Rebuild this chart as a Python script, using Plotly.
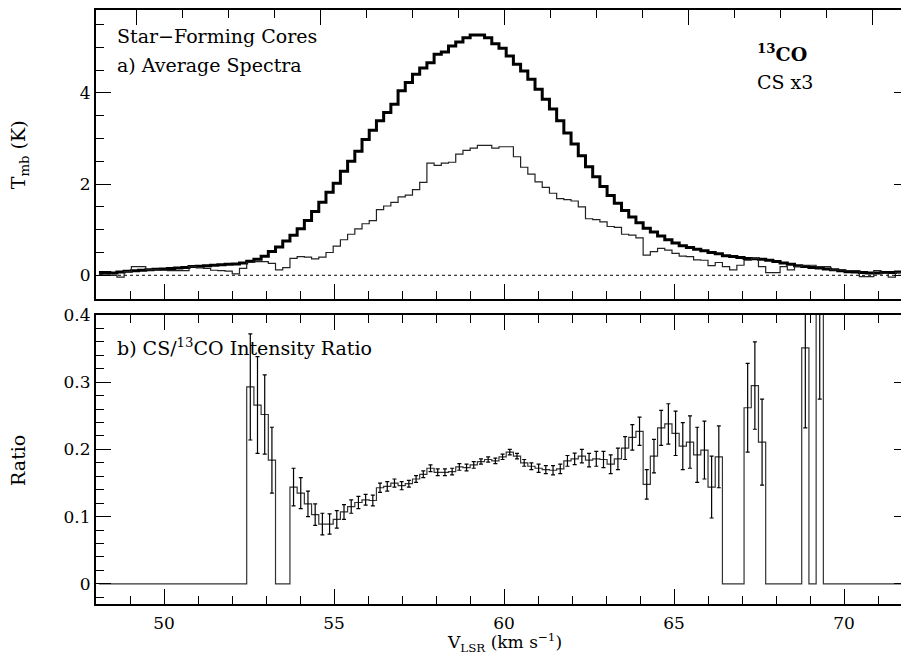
import plotly.graph_objects as go

# ---- channel grid (km/s) ----
V_FIRST = 48.086      # centre of first channel
CHAN_WIDTH = 0.212    # channel width

# ---- a) average spectra (K) ----
t13co = [0.06, 0.06, 0.05, 0.07, 0.09, 0.10, 0.11, 0.12, 0.13, 0.14, 0.15, 0.16, 0.17, 0.19, 0.20, 0.21, 0.22, 0.23, 0.24, 0.25, 0.27,
         0.31, 0.35, 0.42, 0.52, 0.62, 0.75, 0.88, 1.02, 1.20, 1.40, 1.60, 1.82, 2.02, 2.28, 2.50, 2.72, 2.98, 3.18,
         3.39, 3.57, 3.75, 4.05, 4.23, 4.41, 4.55, 4.66, 4.85, 4.90, 5.03, 5.12, 5.21, 5.27, 5.27, 5.21, 5.08, 4.98,
         4.81, 4.63, 4.48, 4.30, 4.08, 3.86, 3.65, 3.39,
         3.12, 2.88, 2.62, 2.38, 2.16, 1.95, 1.75, 1.58, 1.42, 1.28, 1.15, 1.03, 0.95, 0.86, 0.78, 0.71, 0.65, 0.61,
         0.57, 0.54, 0.50, 0.47, 0.43, 0.41, 0.39, 0.37, 0.36, 0.35, 0.33, 0.30, 0.27, 0.24, 0.21, 0.19, 0.17, 0.16,
         0.14, 0.12, 0.10, 0.08, 0.07, 0.06, 0.05, 0.05, 0.06, 0.06, 0.07, 0.07, 0.06]

cs_x3 = [0.02, 0.01, 0.00, -0.04, 0.08, 0.19, 0.19, 0.12, 0.12, 0.11, 0.10, 0.10, 0.10, 0.19, 0.16, 0.15, 0.11, 0.10, 0.09, 0.03, 0.15,
         0.28, 0.30, 0.30, 0.26, 0.12, 0.17, 0.37, 0.41, 0.40, 0.36, 0.40, 0.50, 0.64, 0.78, 0.90, 1.02, 1.13, 1.20,
         1.44, 1.52, 1.60, 1.72, 1.76, 1.88, 2.04,
         2.46, 2.41, 2.46, 2.48, 2.66, 2.74, 2.79, 2.85, 2.85, 2.79, 2.82, 2.82, 2.60, 2.37, 2.22, 2.05, 1.93, 1.80,
         1.68, 1.66, 1.63,
         1.50, 1.24, 1.22, 1.17, 1.07, 1.05, 0.90, 0.88, 0.82, 0.44, 0.52, 0.59, 0.55, 0.48, 0.42, 0.41, 0.34, 0.33,
         0.21, 0.28, 0.19, 0.12, 0.22, 0.33, 0.37, 0.19, 0.06, 0.06, 0.19, 0.12, 0.19, 0.22, 0.22, 0.19, 0.19, 0.12,
         0.12, 0.10, 0.10, -0.03, -0.03, 0.10, 0.04, -0.04, 0.06, 0.03, 0.02]

# ---- b) CS/13CO intensity ratio ----
ratio = [0, 0, 0, 0, 0, 0, 0, 0, 0, 0, 0, 0, 0, 0, 0, 0, 0, 0, 0, 0, 0,
         0.293, 0.266, 0.252, 0.184, 0, 0, 0.144, 0.135, 0.119, 0.103, 0.089, 0.089, 0.096, 0.107, 0.115, 0.121,
         0.125, 0.124, 0.143, 0.145, 0.150, 0.146, 0.149, 0.156, 0.163, 0.172, 0.166, 0.166, 0.167, 0.174, 0.173,
         0.177, 0.182, 0.185, 0.183, 0.189, 0.196, 0.190, 0.180, 0.175, 0.172, 0.170, 0.169, 0.171, 0.183, 0.186,
         0.190, 0.184, 0.186, 0.185, 0.178, 0.186, 0.202, 0.218, 0.227, 0.148, 0.190, 0.232, 0.238, 0.224, 0.205,
         0.211, 0.192, 0.199, 0.144, 0.189,
         0, 0, 0, 0.262, 0.295, 0.211, 0, 0, 0, 0, 0, 0.351, 0, 0.50,
         0, 0, 0, 0, 0, 0, 0, 0, 0, 0, 0, 0, 0]

ratio_err = [0, 0, 0, 0, 0, 0, 0, 0, 0, 0, 0, 0, 0, 0, 0, 0, 0, 0, 0, 0, 0,
             0.079, 0.072, 0.059, 0.049, 0, 0, 0.028, 0.023, 0.019, 0.016, 0.016, 0.015, 0.013, 0.011, 0.010, 0.009,
             0.008, 0.008, 0.007, 0.007, 0.006, 0.006, 0.005, 0.005, 0.005, 0.005, 0.005, 0.005, 0.005, 0.005, 0.005,
             0.005, 0.004, 0.004, 0.004, 0.004, 0.004, 0.004, 0.005, 0.005, 0.006, 0.006, 0.007, 0.007, 0.008, 0.0085,
             0.010, 0.010, 0.011, 0.012, 0.014, 0.016, 0.017, 0.019, 0.021, 0.022, 0.025, 0.026, 0.030, 0.033, 0.035,
             0.039, 0.041, 0.043, 0.046, 0.046,
             0, 0, 0, 0.066, 0.065, 0.064, 0, 0, 0, 0, 0, 0.119, 0, 0.225,
             0, 0, 0, 0, 0, 0, 0, 0, 0, 0, 0, 0, 0]

vel = [round(V_FIRST + CHAN_WIDTH * i, 4) for i in range(len(t13co))]
ratio_pts = [r if e > 0 else None for r, e in zip(ratio, ratio_err)]

FONT = "DejaVu Serif"
TF = dict(family=FONT, size=17, color="black")     # tick labels
LF = dict(family=FONT, size=19, color="black")     # panel texts and axis titles
TICKC = "black"

fig = go.Figure()
fig.add_trace(go.Scatter(x=vel, y=t13co, xaxis="x2", yaxis="y2", mode="lines",
                         line=dict(shape="hvh", width=3, color="black")))
fig.add_trace(go.Scatter(x=vel, y=cs_x3, xaxis="x2", yaxis="y2", mode="lines",
                         line=dict(shape="hvh", width=1.2, color="#222222")))
fig.add_trace(go.Scatter(x=vel, y=ratio, xaxis="x", yaxis="y", mode="lines",
                         line=dict(shape="hvh", width=1.2, color="#333333")))
fig.add_trace(go.Scatter(x=vel, y=ratio_pts, xaxis="x", yaxis="y", mode="markers",
                         marker=dict(size=1, color="rgba(0,0,0,0)"),
                         error_y=dict(type="data", array=ratio_err, color="black",
                                      thickness=1.2, width=2)))
# carriers for the extra tick-only axes
fig.add_trace(go.Scatter(x=[], y=[], xaxis="x3", yaxis="y2"))
fig.add_trace(go.Scatter(x=[], y=[], xaxis="x", yaxis="y3"))
fig.add_trace(go.Scatter(x=[], y=[], xaxis="x2", yaxis="y4"))

XR = [48, 71.676]
minor_x = dict(ticks="inside", ticklen=8, tickwidth=1.3, tickcolor=TICKC, dtick=1, tick0=50, showgrid=False)
xcommon = dict(range=XR, showgrid=False, zeroline=False, showline=True, linecolor="black", linewidth=2,
               ticks="inside", ticklen=15, tickwidth=1.3, tickcolor=TICKC, tick0=50, dtick=5, minor=minor_x)

fig.update_layout(
    width=901, height=655,
    margin=dict(l=96, r=0, t=10, b=51),
    paper_bgcolor="white", plot_bgcolor="white",
    showlegend=False,
    font=TF,
    xaxis=dict(**xcommon, anchor="y", mirror="ticks", tickfont=TF, ticklabelstandoff=3),
    xaxis2=dict(**xcommon, anchor="y2", mirror=True, showticklabels=False, matches="x"),
    xaxis3=dict(overlaying="x2", anchor="y2", side="top", range=[-0.885, 16.615],
                ticks="inside", ticklen=15, tickwidth=1.3, tickcolor=TICKC, tick0=0, dtick=4,
                minor=dict(ticks="inside", ticklen=8, tickwidth=1.3, tickcolor=TICKC, dtick=1, tick0=0),
                showticklabels=False, showline=False, showgrid=False, zeroline=False),
    yaxis=dict(domain=[0, 0.4865], range=[-0.03, 0.4], tick0=0, dtick=0.1,
               ticks="inside", ticklen=15, tickwidth=1.3, tickcolor=TICKC,
               minor=dict(ticks="inside", ticklen=8, tickwidth=1.3, tickcolor=TICKC, dtick=0.02, tick0=0, showgrid=False),
               showline=True, linecolor="black", linewidth=2, mirror=False,
               zeroline=False, showgrid=False, tickfont=TF),
    yaxis2=dict(domain=[0.5135, 1], range=[-0.52, 5.82], tick0=0, dtick=2,
                ticks="inside", ticklen=15, tickwidth=1.3, tickcolor=TICKC,
                minor=dict(ticks="inside", ticklen=8, tickwidth=1.3, tickcolor=TICKC, dtick=0.5, tick0=0, showgrid=False),
                showline=True, linecolor="black", linewidth=2, mirror=False,
                zeroline=False, showgrid=False, tickfont=TF),
    yaxis3=dict(overlaying="y", anchor="x", side="right", range=[-0.03, 0.4], tick0=0, dtick=0.1,
                ticks="inside", ticklen=7, tickwidth=1.3, tickcolor=TICKC,
                showticklabels=False, showline=False, showgrid=False, zeroline=False),
    yaxis4=dict(overlaying="y2", anchor="x2", side="right", range=[-0.52, 5.82], tick0=0, dtick=2,
                ticks="inside", ticklen=7, tickwidth=1.3, tickcolor=TICKC,
                showticklabels=False, showline=False, showgrid=False, zeroline=False),
)

fig.add_shape(type="line", xref="paper", x0=0.005, x1=1, yref="y2", y0=0, y1=0,
              line=dict(color="black", width=1, dash="dot"), layer="below")

def note(text, x, y, xanchor="left", font=LF, **kw):
    fig.add_annotation(text=text, xref="paper", yref="paper", x=x, y=y, xanchor=xanchor,
                       yanchor="middle", showarrow=False, font=font, **kw)

note("Star\u2212Forming Cores", 0.024, 0.956)
note("a) Average Spectra", 0.024, 0.907)
note("<b><sup>13</sup>CO</b>", 0.819, 0.928)
note("CS x3", 0.819, 0.879)
note("b) CS/<sup>13</sup>CO Intensity Ratio", 0.024, 0.433)
note("T<sub>mb</sub> (K)", -0.094, 0.756, xanchor="center", textangle=-90)
note("Ratio", -0.097, 0.2424, xanchor="center", textangle=-90)
fig.add_annotation(text="V<sub>LSR</sub> (km s<sup>\u22121</sup>)", xref="x", yref="paper", x=60, y=-0.064,
                   xanchor="center", yanchor="middle", showarrow=False,
                   font=dict(family=FONT, size=17, color="black"))

fig.write_html("out.html")
